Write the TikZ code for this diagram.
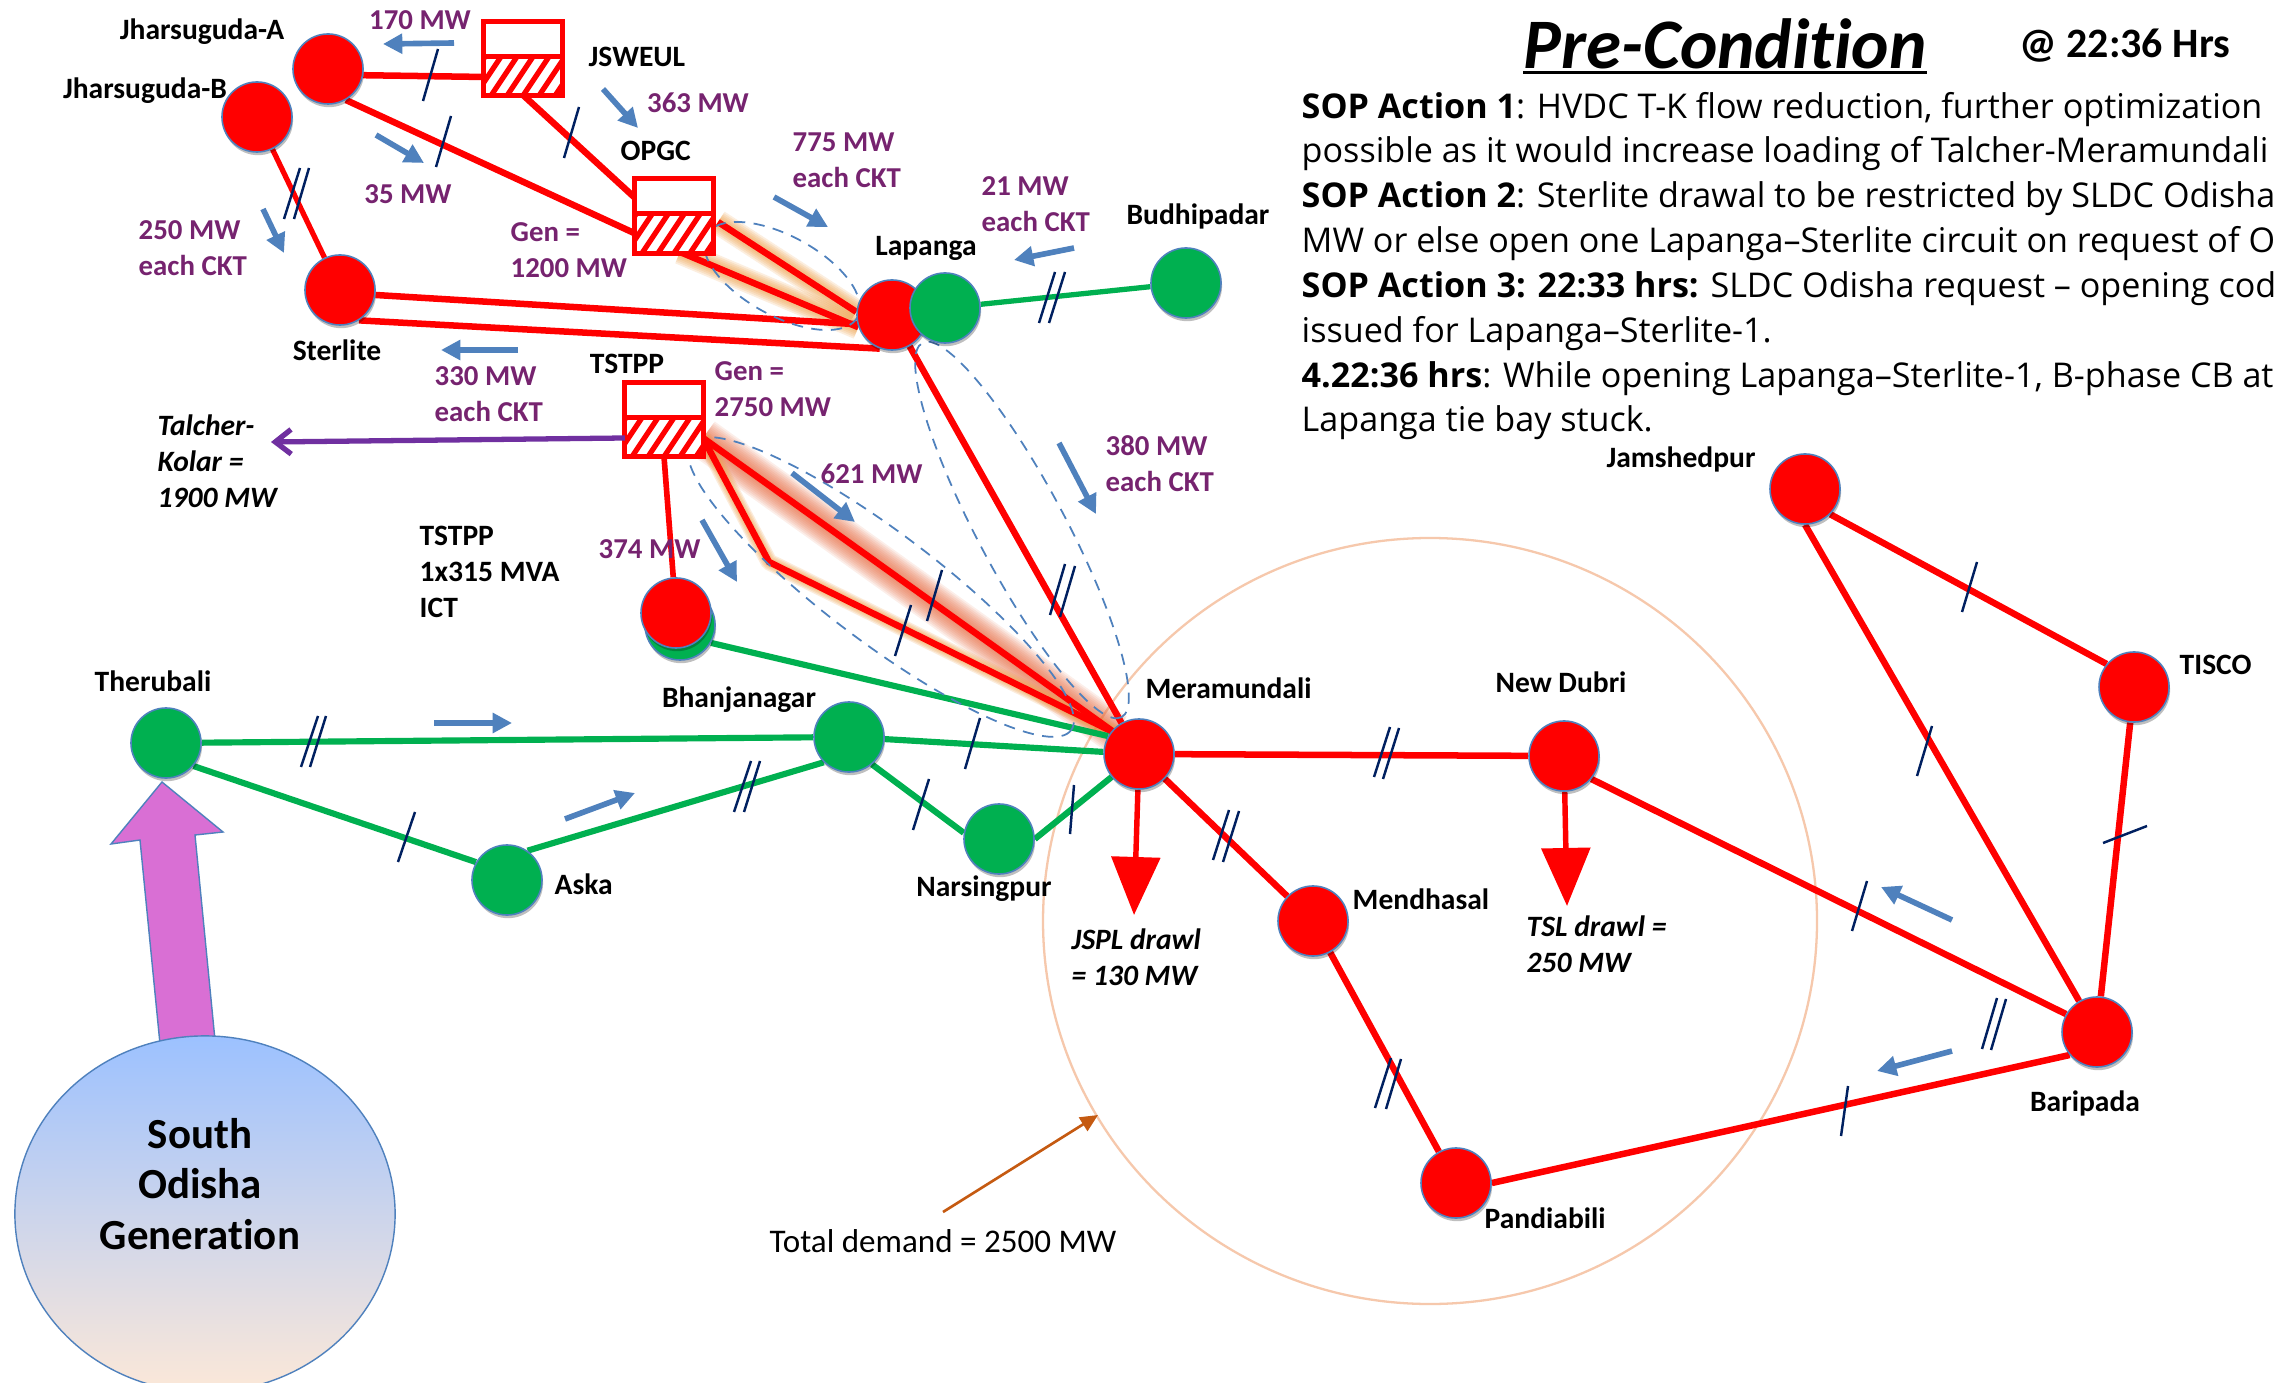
\documentclass[tikz,border=0pt]{standalone}
\usepackage{fontspec}
\setmainfont{Carlito}
\newfontfamily\bodyfont{Open Sans}
\usetikzlibrary{arrows.meta,shapes.geometric,shadows}
\pgfdeclarelayer{bg}
\pgfsetlayers{bg,main}
\definecolor{nred}{HTML}{FF0000}
\definecolor{ngreen}{HTML}{00B050}
\definecolor{nedge}{HTML}{4F81BD}
\definecolor{navy}{HTML}{002060}
\definecolor{purp}{HTML}{76236F}
\definecolor{violetline}{HTML}{7030A0}
\definecolor{peach}{HTML}{F6C8AC}
\definecolor{rust}{HTML}{C55A11}
\definecolor{pinkarrow}{HTML}{D96FD4}
\definecolor{glowa}{HTML}{EE9A3C}
\definecolor{glowb}{HTML}{E8683C}
\tikzset{
  x=0.01cm,y=-0.01cm,
  bus/.style={circle,draw=nedge,line width=.45pt,minimum size=.7cm,inner sep=0pt,
    drop shadow={shadow xshift=.3pt,shadow yshift=-.9pt,opacity=.25,fill=black}},
  busr/.style={bus,fill=nred},
  busg/.style={bus,fill=ngreen},
  redline/.style={draw=nred,line width=1.85pt},
  greenline/.style={draw=ngreen,line width=1.75pt},
  flow/.style={draw=nedge,line width=1.6pt,-{Triangle[length=5.5pt,width=5.5pt]}},
  tick/.style={draw=navy,line width=.7pt},
  lbl/.style={font=\bfseries\fontsize{8.4}{10.2}\selectfont,text=black,align=left,inner sep=0pt},
  mw/.style={lbl,text=purp,font=\bfseries\fontsize{8.2}{10.2}\selectfont},
  ilbl/.style={lbl,font=\bfseries\itshape\fontsize{8.4}{10.2}\selectfont},
  genbox/.style={draw=none,fill=white,minimum width=.77cm,minimum height=.73cm,inner sep=0pt},
  gline/.style={draw=nred,line width=1.5pt},
  spot/.style={draw=nedge,line width=.5pt,dash pattern=on 3.2pt off 2.4pt},
}
\newcommand\hatchbox[3]{%
  \node[genbox] (#1) at (#2,#3) {};
  \begin{scope}
    \clip (#1.west) rectangle (#1.south east);
    \foreach \k in {-8,...,8}
      \draw[nred,line width=1.5pt] ([xshift=\k*.16cm]#1.south) -- ++(40,-60);
  \end{scope}
  \draw[gline] (#1.south west) rectangle (#1.north east);
  \draw[gline] ([yshift=-.35cm]#1.north west) -- ([yshift=-.35cm]#1.north east);
}
\begin{document}
\begin{tikzpicture}
\useasboundingbox (0,0) rectangle (2280,1383);
\begin{pgfonlayer}{bg}
\fill[white] (0,0) rectangle (2280,1383);
\draw[peach,line width=.65pt] (1430,921) ellipse (387 and 383);
\end{pgfonlayer}

% buses
\node[busr] (ja) at (328,69) {};
\node[busr] (jb) at (257,117) {};
\node[busr] (st) at (340,290) {};
\node[busr] (la) at (892,315) {};
\node[busg] (lg) at (945,308) {};
\node[busg] (bu) at (1186,283) {};
\node[busg] (sg) at (680,625) {};
\node[busr] (sr) at (676,613) {};
\node[busr] (me) at (1139,754) {};
\node[busg] (th) at (166,743) {};
\node[busg] (bh) at (849,737) {};
\node[busg] (as) at (507,880) {};
\node[busg] (ns) at (999,839) {};
\node[busr] (nd) at (1564,756) {};
\node[busr] (md) at (1313,921) {};
\node[busr] (pa) at (1456,1183) {};
\node[busr] (ba) at (2097,1032) {};
\node[busr] (ti) at (2134,687) {};
\node[busr] (js) at (1805,489) {};
\hatchbox{jsw}{523}{58.5}
\hatchbox{ogc}{674}{216}
\hatchbox{tst}{664}{419.5}

% ports
\coordinate (ogcA) at (634,197);
\coordinate (ogcB) at (634,233);
\coordinate (jswA) at (485,77);
\coordinate (jswB) at (523,95);
\coordinate (ogcC) at (718,222);
\coordinate (ogcD) at (680,252);
\coordinate (tstA) at (703,438);
\coordinate (kink) at (769,562);
\coordinate (tlk) at (271,442);
\coordinate (jspl) at (1134,915);
\coordinate (tsl) at (1567,906);
\coordinate (mea) at (1115,733);
\coordinate (demT) at (1098,1115);
\coordinate (demS) at (943,1212);

\begin{pgfonlayer}{bg}
% glow
\foreach \w in {3,4,...,7}
  \draw[draw=glowa,opacity=.16,line width=\w pt] (ogcC) -- (la.175);
\foreach \w in {3,4,...,7}
  \draw[draw=glowa,opacity=.16,line width=\w pt] (ogcD) -- (la.200);
\foreach \w in {2.5,3.5,...,11.5}
  \draw[draw=glowb,opacity=.11,line width=\w pt] (tstA) -- (mea);
\foreach \w in {2.5,3.25,...,4.75}
  \draw[draw=glowa,opacity=.18,line width=\w pt,line join=round] (tstA) -- (kink) -- (mea);
% red network
\draw[redline] (ja.-10) -- (jswA);
\draw[redline] (jswB) -- (ogcA);
\draw[redline] (ja.-60) -- (ogcB);
\draw[redline,line width=1.5pt] (jb) -- (st);
\draw[redline] (st.-8) -- (la.195);
\draw[redline] (st.-58) -- (la.250);
\draw[redline] (ogcC) -- (la.175);
\draw[redline] (ogcD) -- (la.200);
\draw[redline] (la) -- (me);
\draw[redline,line width=1.6pt] (tst.south) -- (sr);
\draw[redline] (tstA) -- (mea);
\draw[redline,line join=miter] (tstA) -- (kink) -- (mea);
\draw[redline] (me) -- (nd);
\draw[redline] (me) -- (md);
\draw[redline] (md) -- (pa);
\draw[redline] (pa.0) -- (ba.220);
\draw[redline] (nd.-40) -- (ba.150);
\draw[redline] (js.-90) -- (ba.120);
\draw[redline] (js.-45) -- (ti.140);
\draw[redline] (ti) -- (ba);
% green network
\draw[greenline,line width=1.5pt] (lg) -- (bu);
\draw[greenline] (sg.-30) -- (me.150);
\draw[greenline] (th) -- (bh);
\draw[greenline] (bh) -- (me);
\draw[greenline] (th.-40) -- (as.150);
\draw[greenline] (as.55) -- (bh.225);
\draw[greenline] (bh.-50) -- (ns.170);
\draw[greenline] (ns.0) -- (me.-140);
% dashed grouping ellipses
\draw[spot,rotate around={-28.5:(782,276)}] (782,276) ellipse (86 and 40);
\draw[spot,rotate around={-37:(881,587)}] (881,587) ellipse (238 and 55);
\draw[spot,rotate around={-62:(1022,530)}] (1022,530) ellipse (212 and 44);
\end{pgfonlayer}

% drawl arrows and export arrow
\begin{pgfonlayer}{bg}
\draw[draw=nred,line width=1.55pt,-{Triangle[length=16.5pt,width=13.7pt]}] (me) -- (jspl);
\draw[draw=nred,line width=1.55pt,-{Triangle[length=16.5pt,width=13.7pt]}] (nd) -- (tsl);
\end{pgfonlayer}
\draw[draw=violetline,line width=1.5pt,-{Straight Barb[length=4.5pt,width=7pt,line width=1.5pt]}] (tst.west |- tstA) -- (tlk);
\draw[draw=rust,line width=.75pt,-{Triangle[length=5pt,width=4.5pt]}] (demS) -- (demT);

% ticks
\foreach \p/\q/\r/\s in {438/49/423/101,451/116/436/167,579/107/564/158,300/168/284/219,309/168/294/219,
  1055/272/1039/323,1065/272/1049/323,942/570/927/621,911/605/895/656,1065/564/1050/615,1075/566/1060/617,
  318/716/301/767,326/716/310/767,415/812/398/862,751/761/734/812,760/761/744/812,980/718/965/769,929/779/913/830,
  1074/785/1070/834,1390/727/1374/777,1399/728/1383/779,1229/810/1213/860,1239/811/1223/862,
  1391/1058/1375/1108,1401/1059/1386/1109,1848/1086/1841/1136,1997/998/1982/1049,2006/999/1991/1050,
  1867/881/1852/931,1932/726/1917/776,2147/826/2103/843,1977/562/1962/612}
  \draw[tick] (\p,\q) -- (\r,\s);

% flow arrows
\foreach \p/\q/\r/\s in {454/43/383/44,603/89/638/128,376/135/424/163,263/209/284/253,518/350/441/350,
  774/197/828/227,1074/248/1014/260,792/473/855/522,1059/443/1096/514,702/520/737/582,
  434/723/512/723,565/819/635/793,1952/920/1881/887,1952/1051/1877/1071}
  \draw[flow] (\p,\q) -- (\r,\s);

% South Odisha generation
\draw[draw=nedge,line width=.4pt,fill=pinkarrow] (162,782) -- (223,832) -- (195,835) -- (215,1040) -- (160,1044) -- (140,840) -- (111,844) -- cycle;
\node[ellipse,draw=nedge,line width=.4pt,minimum width=3.8cm,minimum height=3.56cm,inner sep=0pt,
  top color={rgb,255:red,156;green,193;blue,255},bottom color={rgb,255:red,252;green,232;blue,216}] (so) at (205,1214) {};
\node[lbl,align=center,font=\bfseries\fontsize{12.2}{14.4}\selectfont] (sotext) at (200,1184) {South\\Odisha\\Generat\kern0pt ion};

% bus labels
\node[lbl] (t1) at (202,32) {Jharsuguda-A};
\node[lbl] (t2) at (145,91) {Jharsuguda-B};
\node[lbl,anchor=west] (t3) at (588,57) {JSWEUL};
\node[lbl,anchor=west] (t4) at (620,151) {OPGC};
\node[lbl] (t5) at (337,350) {Sterlite};
\node[lbl] (t6) at (627,364) {TSTPP};
\node[lbl] (t7) at (926,248) {Lapanga};
\node[lbl] (t8) at (1198,216) {Budhipadar};
\node[lbl,anchor=west] (t9) at (419,572) {TSTPP\\1x315 MVA\\ICT};
\node[lbl] (t10) at (739,700) {Bhanjanagar};
\node[lbl] (t11) at (153,681) {Therubali};
\node[lbl,anchor=west] (t12) at (554,884) {Aska};
\node[lbl] (t13) at (984,889) {Narsingpur};
\node[lbl] (t14) at (1681,459) {Jamshedpur};
\node[lbl,anchor=west] (t15) at (1145,688) {Meramundali};
\node[lbl] (t16) at (1561,682) {New Dubri};
\node[lbl,anchor=west] (t17) at (1352,899) {Mendhasal};
\node[lbl,anchor=west] (t18) at (1484,1218) {Pandiabili};
\node[lbl] (t19) at (2085,1103) {Baripada};
\node[lbl,anchor=west] (t20) at (2179,665) {TISCO};

% italic labels
\node[ilbl,anchor=west] (i1) at (157,461) {Talcher-\\Kolar =\\1900 MW};
\node[ilbl,anchor=west] (i2) at (1071,957) {JSPL drawl\\= 130 MW};
\node[ilbl,anchor=west] (i3) at (1526,944) {TSL drawl =\\250 MW};

% MW labels
\node[mw] (m1) at (420,20) {170 MW};
\node[mw] (m2) at (698,103) {363 MW};
\node[mw] (m3) at (408,194) {35 MW};
\node[mw,anchor=west] (m4) at (138,248) {250 MW\\each CKT};
\node[mw,anchor=west] (m5) at (510,250) {Gen =\\1200 MW};
\node[mw,anchor=west] (m6) at (792,160) {775 MW\\each CKT};
\node[mw,anchor=west] (m7) at (981,204) {21 MW\\each CKT};
\node[mw,anchor=west] (m8) at (714,389) {Gen =\\2750 MW};
\node[mw,anchor=west] (m9) at (434,394) {330 MW\\each CKT};
\node[mw,anchor=west] (m10) at (820,474) {621 MW};
\node[mw,anchor=west] (m11) at (1105,464) {380 MW\\each CKT};
\node[mw,anchor=west] (m12) at (598,549) {374 MW};

\node[anchor=west,inner sep=0pt,font=\fontsize{9.4}{11}\selectfont] (dem) at (769,1241) {Total demand = 2500 MW};

% header and text
\node[inner sep=0pt,anchor=base west,font=\bfseries\itshape\fontsize{20.2}{22}\selectfont] (title) at (1523,69) {Pre-Condit\kern0pt ion};
\draw[line width=.85pt] (1523,72.5) -- (1927,72.5);
\node[inner sep=0pt,anchor=west,font=\bfseries\fontsize{11.9}{14}\selectfont] (when) at (2019,46) {@ 22:36 Hrs};
\node[anchor=west,inner sep=0pt,align=left,font=\bodyfont\fontsize{9.7}{12.75}\selectfont] (body) at (1301,266) {%
\textbf{SOP Action 1}: HVDC T-K flow reduction, further optimization\\
possible as it would increase loading of Talcher-Meramundali\\
\textbf{SOP Action 2}: Sterlite drawal to be restricted by SLDC Odisha\\
MW or else open one Lapanga–Sterlite circuit on request of O\\
\textbf{SOP Action 3: 22:33 hrs:} SLDC Odisha request – opening cod\\
issued for Lapanga–Sterlite-1.\\
\textbf{4.22:36 hrs}: While opening Lapanga–Sterlite-1, B-phase CB at\\
Lapanga tie bay stuck.};
\end{tikzpicture}
\end{document}
